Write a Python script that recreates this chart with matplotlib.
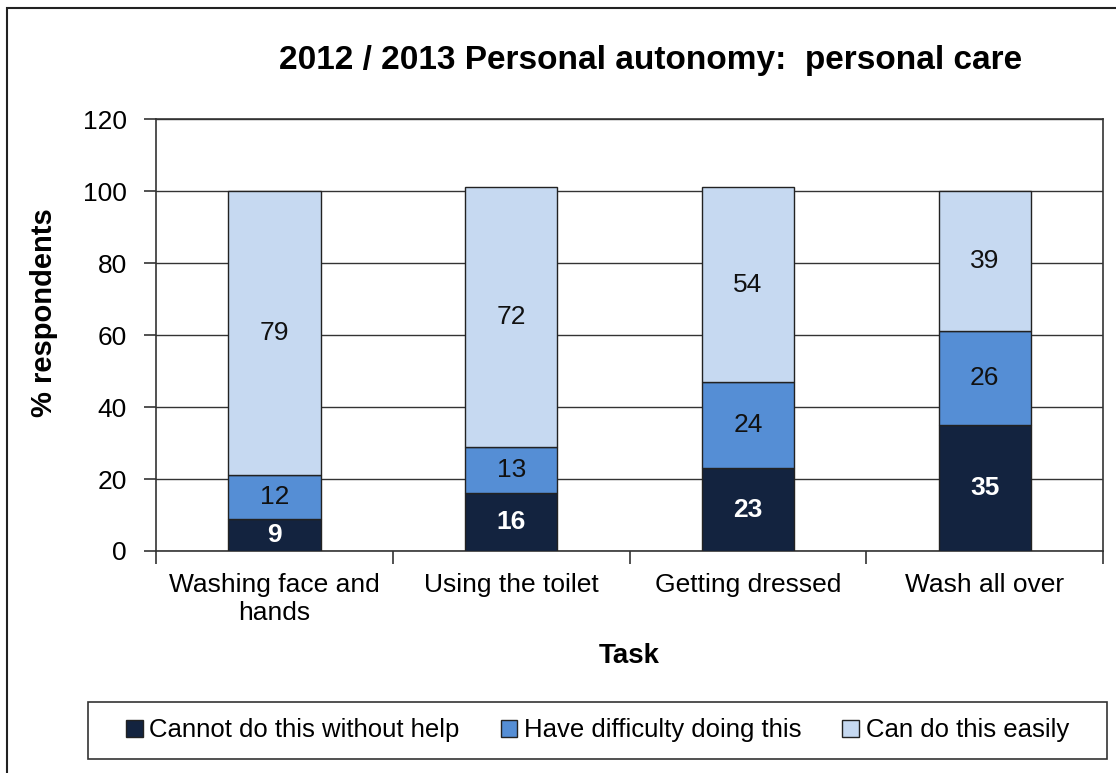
import matplotlib.pyplot as plt
import numpy as np
from matplotlib.patches import Rectangle

plt.rcParams['font.family'] = ['Liberation Sans', 'DejaVu Sans']

# Survey results per task (% respondents)
tasks = ['Washing face and\nhands', 'Using the toilet', 'Getting dressed', 'Wash all over']
cannot_do = [9, 16, 23, 35]
difficulty = [12, 13, 24, 26]
easily = [79, 72, 54, 39]

series = [
    ('Cannot do this without help', cannot_do, '#13233F', 'white', 'bold'),
    ('Have difficulty doing this', difficulty, '#558ED5', '#111111', 'normal'),
    ('Can do this easily', easily, '#C6D9F1', '#111111', 'normal'),
]

fig = plt.figure(figsize=(11.16, 7.73), dpi=100)
ax = fig.add_axes([0.1398, 0.2872, 0.8486, 0.5588])

x = np.arange(len(tasks))
bottom = np.zeros(len(tasks))
handles = []
for name, vals, color, txt_color, weight in series:
    vals = np.array(vals, dtype=float)
    bars = ax.bar(x, vals, width=0.39, bottom=bottom, color=color,
                  edgecolor='#222222', linewidth=1.0, zorder=3, label=name)
    for xi, b, v in zip(x, bottom, vals):
        ax.text(xi, b + v / 2, f'{v:.0f}', ha='center', va='center',
                fontsize=19, color=txt_color, fontweight=weight, zorder=4)
    handles.append(bars)
    bottom += vals

ax.set_xlim(-0.5, len(tasks) - 0.5)
ax.set_ylim(0, 120)
ax.set_yticks(np.arange(0, 121, 20))
ax.yaxis.grid(True, color='#333333', linewidth=1.0, zorder=0)
ax.set_axisbelow(True)

# category boundaries as tick marks, labels centered between them
ax.set_xticks(np.arange(-0.5, len(tasks)), minor=False)
ax.set_xticklabels([])
ax.set_xticks(x, minor=True)
ax.set_xticklabels(tasks, minor=True, fontsize=19, linespacing=1.2)
ax.tick_params(axis='x', which='minor', length=0, pad=16)
ax.tick_params(axis='x', which='major', length=9, width=1.2, color='#333333')
ax.tick_params(axis='y', length=9, width=1.2, color='#333333', labelsize=19, pad=12)

for s in ax.spines.values():
    s.set_color('#333333')
    s.set_linewidth(1.2)

ax.set_ylabel('% respondents', fontsize=21, fontweight='bold')
ax.yaxis.set_label_coords(-0.104, 0.551)
ax.set_xlabel('Task', fontsize=20, fontweight='bold', labelpad=13)

fig.text(0.583, 0.922, '2012 / 2013 Personal autonomy:  personal care',
         ha='center', va='center', fontsize=24, fontweight='bold')

leg = fig.legend(handles=handles, loc='center',
                 bbox_to_anchor=(0.5354, 0.055),
                 ncol=3, fontsize=18.5, frameon=False,
                 handlelength=0.65, handleheight=0.65, handletextpad=0.25,
                 columnspacing=1.6)

# legend box
fig.patches.append(Rectangle((88 / 1116, 1 - 759 / 773), 1019 / 1116, 57 / 773,
                             transform=fig.transFigure, fill=False,
                             edgecolor='#333333', linewidth=1.2))

# outer chart border
fig.patches.append(Rectangle((7 / 1116, -0.05), 1.2, 1 - 8 / 773 + 0.05,
                             transform=fig.transFigure, fill=False,
                             edgecolor='#222222', linewidth=1.5))

fig.savefig('out.png', dpi=100)
